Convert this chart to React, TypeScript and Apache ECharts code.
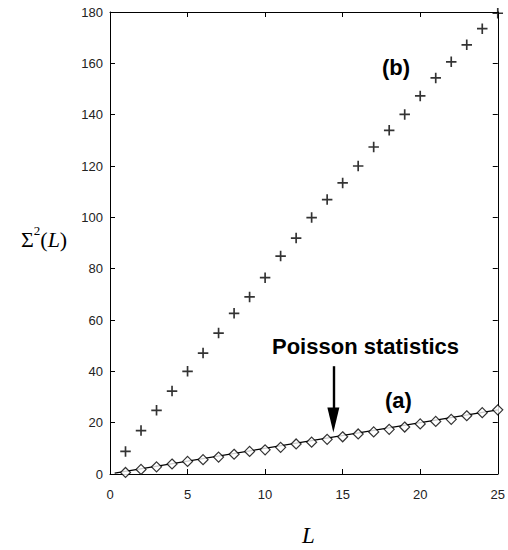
import React, { useEffect, useRef } from "react";
import * as echarts from "echarts";

const L_VALUES = [1, 2, 3, 4, 5, 6, 7, 8, 9, 10, 11, 12, 13, 14, 15, 16, 17, 18, 19, 20, 21, 22, 23, 24, 25];
const SIGMA_B = [8.8, 16.9, 24.8, 32.3, 40, 47.1, 54.9, 62.6, 69, 76.5, 84.9, 91.9, 99.9, 106.9, 113.4, 120, 127.4, 133.9, 140.1, 147.3, 154.3, 160.6, 167.2, 173.5, 179.5];
const SIGMA_A = [0.6, 1.8, 2.8, 3.9, 4.9, 5.6, 6.6, 7.7, 8.8, 9.4, 10.4, 11.7, 12.4, 13.5, 14.5, 15.6, 16.4, 17.4, 18.3, 19.5, 20.5, 21.3, 22.7, 23.9, 25];
const POISSON_L = [0.3, 25];
const POISSON_SIGMA = [0.3, 25];
const ARROW_X = 14.4;
const ARROW_FROM = 42;
const ARROW_HEAD_CENTER = 21;
const X_RANGE = [0, 25, 5];
const Y_RANGE = [0, 180, 20];

const PLUS = "path://M4.2,0h1.6v4.2h4.2v1.6h-4.2v4.2h-1.6v-4.2h-4.2v-1.6h4.2z";

export default function App() {
  const ref = useRef<HTMLDivElement>(null);
  useEffect(() => {
    if (!ref.current) return;
    const chart = echarts.init(ref.current, null, { renderer: "svg" });
    const tickLabel = { fontFamily: "Liberation Sans, Arial", fontSize: 13, color: "#222" };
    const axisCommon = {
      type: "value" as const,
      axisLine: { show: true, onZero: false, lineStyle: { color: "#000", width: 1 } },
      axisTick: { show: true, inside: true, length: 5, lineStyle: { color: "#000", width: 1 } },
      splitLine: { show: false },
    };
    chart.setOption({
      animation: false,
      backgroundColor: "#fff",
      grid: { left: 110, top: 12, width: 391, height: 462, containLabel: false },
      xAxis: [
        { ...axisCommon, position: "bottom", min: X_RANGE[0], max: X_RANGE[1], interval: X_RANGE[2],
          axisLabel: { ...tickLabel, margin: 14 } },
        { ...axisCommon, position: "top", min: X_RANGE[0], max: X_RANGE[1], interval: X_RANGE[2],
          axisLabel: { show: false } },
      ],
      yAxis: [
        { ...axisCommon, position: "left", min: Y_RANGE[0], max: Y_RANGE[1], interval: Y_RANGE[2],
          axisLabel: { ...tickLabel, margin: 7 } },
        { ...axisCommon, position: "right", min: Y_RANGE[0], max: Y_RANGE[1], interval: Y_RANGE[2],
          axisLabel: { show: false } },
      ],
      series: [
        {
          type: "line",
          data: POISSON_L.map((l, i) => [l, POISSON_SIGMA[i]]),
          showSymbol: false,
          symbol: "none",
          lineStyle: { color: "#000", width: 1.3 },
          z: 2,
          markLine: {
            silent: true,
            symbol: ["none", "triangle"],
            symbolSize: [12, 25],
            label: { show: false },
            lineStyle: { color: "#000", width: 2.4, type: "solid" },
            data: [[{ coord: [ARROW_X, ARROW_FROM] }, { coord: [ARROW_X, ARROW_HEAD_CENTER] }]],
          },
        },
        {
          type: "scatter",
          data: L_VALUES.map((l, i) => [l, SIGMA_A[i]]),
          symbol: "diamond",
          symbolSize: [10, 10],
          itemStyle: { color: "#fff", borderColor: "#000", borderWidth: 1.2 },
          z: 3,
        },
        {
          type: "scatter",
          data: L_VALUES.map((l, i) => [l, SIGMA_B[i]]),
          symbol: PLUS,
          symbolSize: 10.5,
          itemStyle: { color: "#000" },
          z: 3,
        },
      ],
      graphic: [
        {
          type: "text", left: 272, top: 335,
          style: { text: "Poisson statistics", font: "bold 22px 'Liberation Sans', Arial", fill: "#000" },
        },
        {
          type: "text", left: 385, top: 389,
          style: { text: "(a)", font: "bold 22px 'Liberation Sans', Arial", fill: "#000" },
        },
        {
          type: "text", left: 382, top: 56,
          style: { text: "(b)", font: "bold 22px 'Liberation Sans', Arial", fill: "#000" },
        },
        {
          type: "text", left: 21, top: 224,
          style: {
            text: "{m|Σ}{s|2}{m|(}{i|L}{m|)}",
            rich: {
              m: { fontFamily: "Liberation Serif", fontSize: 22, lineHeight: 26, fill: "#000", verticalAlign: "bottom" },
              s: { fontFamily: "Liberation Serif", fontSize: 13, lineHeight: 14, fill: "#000", verticalAlign: "top" },
              i: { fontFamily: "Liberation Serif", fontSize: 22, fontStyle: "italic", lineHeight: 26, fill: "#000", verticalAlign: "bottom" },
            },
          },
        },
        {
          type: "text", left: 302, top: 524,
          style: { text: "L", font: "italic 23px 'Liberation Serif'", fill: "#000" },
        },
      ],
    });
    return () => chart.dispose();
  }, []);
  return <div ref={ref} style={{ position: "fixed", left: 0, top: 0, width: 508, height: 550, background: "#fff" }} />;
}
